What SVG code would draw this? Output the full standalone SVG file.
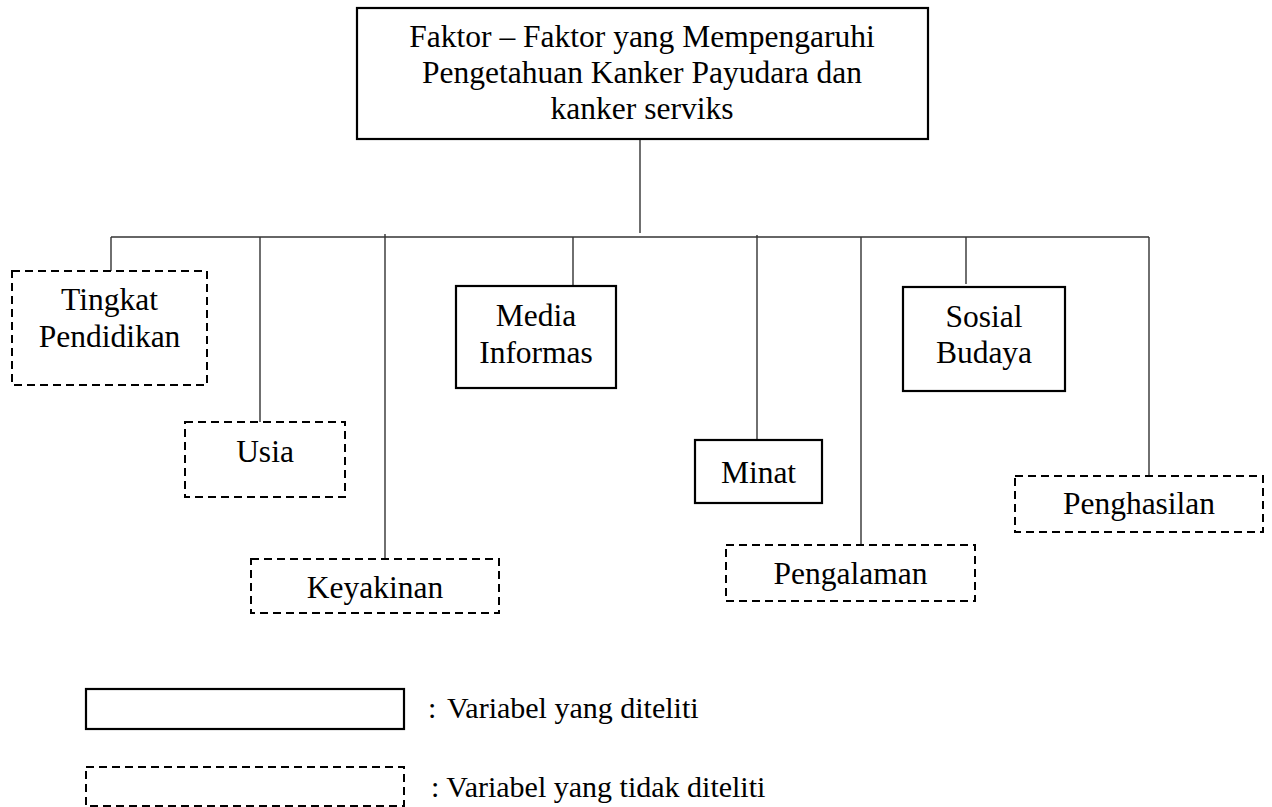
<svg xmlns="http://www.w3.org/2000/svg" width="1272" height="807" viewBox="0 0 1272 807">
<style>
text{font-family:"Liberation Serif","Times New Roman",serif;font-size:31.5px;fill:#000;text-anchor:middle}
.leg{font-size:30px;text-anchor:start}
.solid{fill:#fff;stroke:#000;stroke-width:2.2}
.dash{fill:#fff;stroke:#000;stroke-width:2;stroke-dasharray:8 5}
.conn{stroke:#333;stroke-width:1.4;fill:none}
</style>
<rect width="1272" height="807" fill="#fff"/>
<g id="connectors">
<line class="conn" x1="640" y1="140" x2="640" y2="233"/>
<line class="conn" x1="111" y1="237" x2="1149" y2="237"/>
<line class="conn" x1="111" y1="237" x2="111" y2="271"/>
<line class="conn" x1="260" y1="237" x2="260" y2="422"/>
<line class="conn" x1="385" y1="234" x2="385" y2="559"/>
<line class="conn" x1="573" y1="237" x2="573" y2="286"/>
<line class="conn" x1="757" y1="235" x2="757" y2="440"/>
<line class="conn" x1="861" y1="237" x2="861" y2="545"/>
<line class="conn" x1="966" y1="237" x2="966" y2="284"/>
<line class="conn" x1="1149" y1="237" x2="1149" y2="476"/>
</g>
<g id="n-main">
<rect class="solid" x="357" y="8" width="571" height="131"/>
<text x="642" y="47">Faktor – Faktor yang Mempengaruhi</text>
<text x="642" y="83">Pengetahuan Kanker Payudara dan</text>
<text x="642" y="119">kanker serviks</text>
</g>
<g id="n-tingkat">
<rect class="dash" x="12" y="271" width="195" height="114"/>
<text x="109.5" y="310">Tingkat</text>
<text x="109.5" y="347">Pendidikan</text>
</g>
<g id="n-usia">
<rect class="dash" x="185" y="422" width="160" height="75"/>
<text x="265" y="462">Usia</text>
</g>
<g id="n-keyakinan">
<rect class="dash" x="251" y="559" width="248" height="54"/>
<text x="375" y="598">Keyakinan</text>
</g>
<g id="n-media">
<rect class="solid" x="456" y="286" width="160" height="102"/>
<text x="536" y="326">Media</text>
<text x="536" y="363">Informas</text>
</g>
<g id="n-minat">
<rect class="solid" x="695" y="440" width="127" height="63"/>
<text x="758.5" y="483">Minat</text>
</g>
<g id="n-pengalaman">
<rect class="dash" x="726" y="545" width="249" height="56"/>
<text x="850.5" y="584">Pengalaman</text>
</g>
<g id="n-sosial">
<rect class="solid" x="903" y="287" width="162" height="104"/>
<text x="984" y="327">Sosial</text>
<text x="984" y="363">Budaya</text>
</g>
<g id="n-penghasilan">
<rect class="dash" x="1015" y="476" width="248" height="56"/>
<text x="1139" y="514">Penghasilan</text>
</g>
<g id="legend">
<rect class="solid" x="86" y="689" width="318" height="40"/>
<text class="leg" x="428" y="718">:<tspan x="447">Variabel yang diteliti</tspan></text>
<rect class="dash" x="86" y="767" width="318" height="39"/>
<text class="leg" x="431" y="797">: Variabel yang tidak diteliti</text>
</g>
</svg>
